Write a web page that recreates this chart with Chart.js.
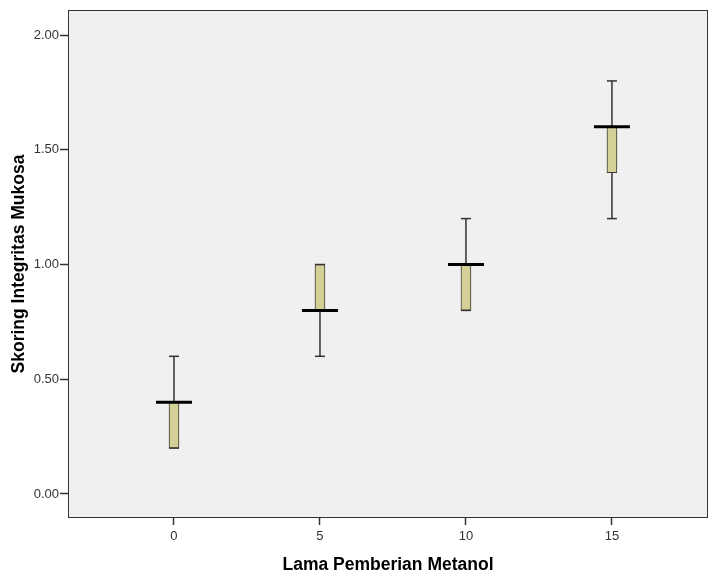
<html lang="id">
<head>
  <meta charset="UTF-8">
  <title>Skoring Integritas Mukosa</title>
  <style>
    body { margin: 0; padding: 0; background: #fff; }
    #chart { display: block; }
  </style>
</head>
<body>
  <canvas id="chart" width="709" height="574"></canvas>
  <script src="https://cdn.jsdelivr.net/npm/chart.js"></script>
  <script>
    // data
    const groups = [0, 5, 10, 15];
    const minVals = [0.2, 0.6, 0.8, 1.2];
    const q1Vals = [0.2, 0.8, 0.8, 1.4];
    const medVals = [0.4, 0.8, 1.0, 1.6];
    const q3Vals = [0.4, 1.0, 1.0, 1.6];
    const maxVals = [0.6, 1.0, 1.2, 1.8];
    const yTicks = [0, 0.5, 1, 1.5, 2];

    const boxData = groups.map((g, i) => ({ x: g, y: [q1Vals[i], q3Vals[i]] }));
    const medData = groups.map((g, i) => ({ x: g, y: medVals[i] }));
    const capData = [];
    const whiskerData = [];
    groups.forEach((g, i) => {
      capData.push({ x: g, y: minVals[i] }, { x: g, y: maxVals[i] });
      whiskerData.push({ x: g, y: minVals[i] }, { x: g, y: maxVals[i] }, { x: g, y: null });
    });

    // grey plot background and frame
    const frame = {
      id: 'frame',
      beforeDatasetsDraw(chart) {
        const { ctx, chartArea: a } = chart;
        ctx.save();
        ctx.fillStyle = '#f0f0f0';
        ctx.fillRect(a.left, a.top, a.right - a.left, a.bottom - a.top);
        ctx.restore();
      },
      afterDatasetsDraw(chart) {
        const { ctx, chartArea: a } = chart;
        ctx.save();
        ctx.strokeStyle = '#333';
        ctx.lineWidth = 1;
        ctx.strokeRect(a.left + 0.5, a.top + 0.5, a.right - a.left - 1, a.bottom - a.top - 1);
        ctx.restore();
      }
    };

    const font = 'Arial, "Liberation Sans", sans-serif';

    new Chart(document.getElementById('chart'), {
      type: 'bar',
      data: {
        datasets: [
          {
            type: 'line',
            data: whiskerData,
            borderColor: '#333',
            borderWidth: 1.5,
            pointRadius: 0,
            spanGaps: false,
            order: 4
          },
          {
            type: 'bar',
            data: boxData,
            backgroundColor: '#d5cf98',
            borderColor: '#3a3a30',
            borderWidth: 1,
            borderSkipped: false,
            barThickness: 10,
            order: 3
          },
          {
            type: 'scatter',
            data: capData,
            pointStyle: 'line',
            pointRadius: 5,
            borderColor: '#333',
            borderWidth: 1.5,
            order: 2
          },
          {
            type: 'scatter',
            data: medData,
            pointStyle: 'line',
            pointRadius: 18,
            borderColor: '#000',
            borderWidth: 3,
            order: 1
          }
        ]
      },
      options: {
        responsive: false,
        animation: false,
        layout: { autoPadding: false, padding: 0 },
        plugins: { legend: { display: false }, tooltip: { enabled: false } },
        scales: {
          x: {
            type: 'linear',
            offset: false,
            min: -3.63,
            max: 18.29,
            afterBuildTicks: s => { s.ticks = groups.map(v => ({ value: v })); },
            afterFit: s => { s.height = 56; s.paddingRight = 1; s.paddingLeft = 0; },
            grid: { offset: false, drawOnChartArea: false, tickLength: 7, color: '#333', tickWidth: 1.5 },
            border: { display: false },
            ticks: { color: '#333', font: { family: font, size: 13 }, padding: 4 },
            title: {
              display: true,
              text: 'Lama Pemberian Metanol',
              color: '#000',
              font: { family: font, size: 17.5, weight: 'bold' },
              padding: { top: 0, bottom: -2 }
            }
          },
          y: {
            min: -0.1046,
            max: 2.109,
            afterBuildTicks: s => { s.ticks = yTicks.map(v => ({ value: v })); },
            afterFit: s => { s.width = 68; s.paddingTop = 10; s.paddingBottom = 0; },
            grid: { drawOnChartArea: false, tickLength: 8, color: '#333', tickWidth: 1.5 },
            border: { display: false },
            ticks: {
              color: '#333',
              font: { family: font, size: 13 },
              padding: 1,
              callback: v => v.toFixed(2)
            },
            title: {
              display: true,
              text: 'Skoring Integritas Mukosa',
              color: '#000',
              font: { family: font, size: 17.5, weight: 'bold' },
              padding: { top: 8.5, bottom: 0 }
            }
          }
        }
      },
      plugins: [frame]
    });
  </script>
</body>
</html>
